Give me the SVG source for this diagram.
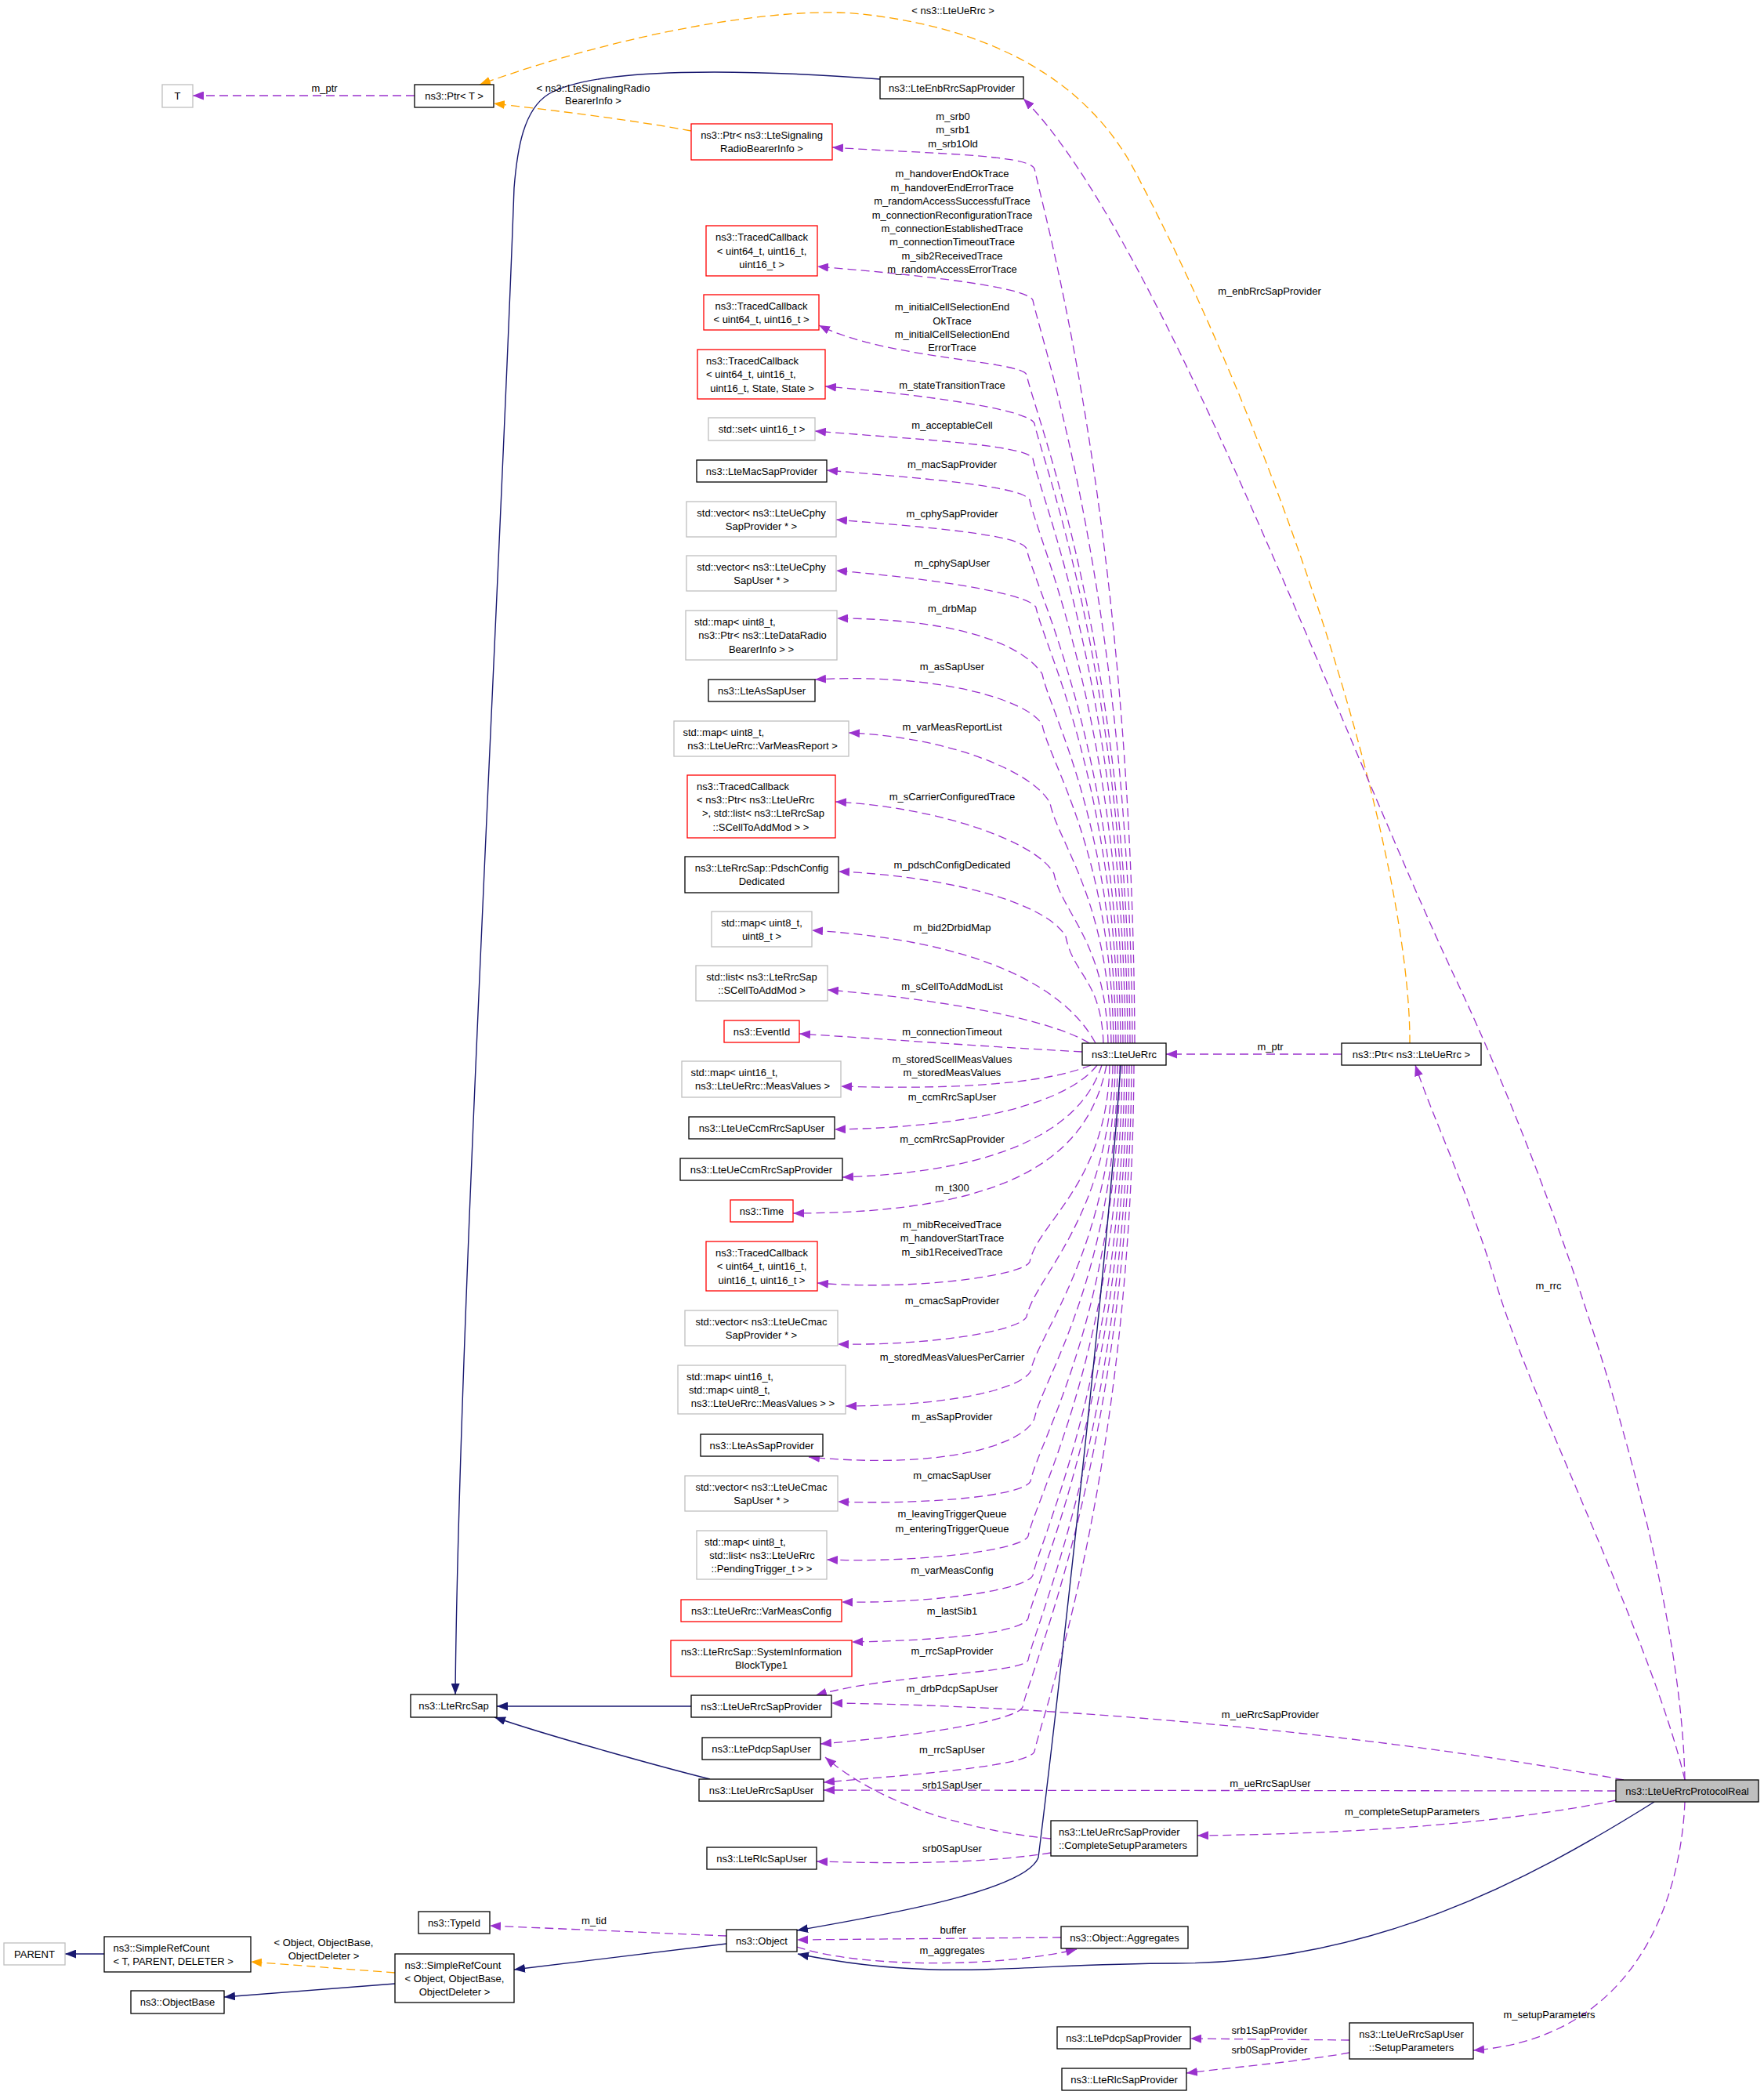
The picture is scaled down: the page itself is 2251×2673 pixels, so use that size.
<svg xmlns="http://www.w3.org/2000/svg" width="2251" height="2673" viewBox="0 0 2251 2673">
<style>
text{font-family:"Liberation Sans",Arial,Helvetica,sans-serif;font-size:13px;fill:#000;text-anchor:middle}
text.s{text-anchor:start}
rect{fill:#fff;stroke-width:1.3}
.k rect{stroke:#000}
.g rect{stroke:#bfbfbf}
.r rect{stroke:#ff0000}
.e{fill:none;stroke:#9a32cd;stroke-width:1.3;stroke-dasharray:11,6;marker-end:url(#mp)}
.o{fill:none;stroke:#ffa500;stroke-width:1.3;stroke-dasharray:11,6;marker-end:url(#mo)}
.b{fill:none;stroke:#191970;stroke-width:1.4;marker-end:url(#mb)}
</style>
<defs>
<marker id="mp" markerUnits="userSpaceOnUse" markerWidth="14" markerHeight="11" refX="14" refY="5.5" orient="auto"><path d="M0,0 L14,5.5 L0,11 z" fill="#9a32cd" stroke="none"/></marker>
<marker id="mo" markerUnits="userSpaceOnUse" markerWidth="14" markerHeight="11" refX="14" refY="5.5" orient="auto"><path d="M0,0 L14,5.5 L0,11 z" fill="#ffa500" stroke="none"/></marker>
<marker id="mb" markerUnits="userSpaceOnUse" markerWidth="14" markerHeight="11" refX="14" refY="5.5" orient="auto"><path d="M0,0 L14,5.5 L0,11 z" fill="#191970" stroke="none"/></marker>
</defs>
<rect x="0" y="0" width="2251" height="2673" style="fill:#fff;stroke:none"/>
<g id="connectors">
<!-- top area -->
<path class="e" d="M529,122 L246,122"/>
<path class="o" d="M882,167 C800,152 700,140 630,132"/>
<path class="o" d="M1799,1331 C1800,1100 1650,600 1448,218 C1400,127 1300,40 1100,18 C1000,7 800,40 612,108"/>
<path class="b" d="M1123,101 C950,88 760,85 700,120 C668,140 660,190 656,240 C640,700 585,1700 581,2162"/>
<path class="e" d="M2150,2271 C2145,2000 2000,1550 1858,1250 C1716,950 1480,300 1306,126"/>
<path class="e" d="M2150,2271 C2110,2100 1960,1800 1913,1650 C1870,1510 1830,1430 1806,1359"/>
<path class="e" d="M1712,1345 L1488,1345"/>
<!-- LteUeRrc upper fan -->
<path class="e" d="M1448,1331 C1445,661 1330,265 1320,215 C1312,197 1182,196 1062,188"/>
<path class="e" d="M1445,1331 C1442,762 1328,433 1318,383 C1310,365 1163,350 1043,340"/>
<path class="e" d="M1442,1331 C1439,819 1320,528 1310,478 C1302,460 1130,458 1045,415"/>
<path class="e" d="M1439,1331 C1436,856 1330,590 1320,540 C1312,522 1173,503 1053,493"/>
<path class="e" d="M1436,1331 C1433,883 1328,635 1318,585 C1310,567 1160,560 1040,550"/>
<path class="e" d="M1433,1331 C1430,915 1324,688 1314,638 C1306,620 1175,610 1055,600"/>
<path class="e" d="M1430,1331 C1427,952 1320,750 1310,700 C1302,682 1187,673 1067,663"/>
<path class="e" d="M1427,1331 C1424,997 1332,825 1322,775 C1314,757 1187,738 1067,728"/>
<path class="e" d="M1424,1331 C1421,1048 1340,910 1330,860 C1300,815 1200,789 1068,789"/>
<path class="e" d="M1421,1331 C1418,1087 1340,975 1330,925 C1315,895 1200,858 1040,867"/>
<path class="e" d="M1418,1331 C1415,1147 1350,1075 1340,1025 C1320,985 1210,940 1083,935"/>
<path class="e" d="M1414,1331 C1411,1201 1355,1165 1345,1115 C1325,1075 1200,1030 1066,1023"/>
<path class="e" d="M1408,1331 C1405,1249 1370,1245 1360,1195 C1335,1150 1200,1117 1070,1112"/>
<path class="e" d="M1398,1331 C1360,1260 1250,1200 1036,1187"/>
<path class="e" d="M1390,1331 C1340,1300 1200,1275 1056,1263"/>
<path class="e" d="M1381,1342 C1250,1335 1120,1325 1020,1319"/>
<!-- LteUeRrc lower fan -->
<path class="e" d="M1392,1359 C1330,1385 1200,1390 1073,1386"/>
<path class="e" d="M1400,1359 C1365,1405 1250,1438 1065,1441"/>
<path class="e" d="M1406,1359 C1380,1440 1280,1495 1075,1502"/>
<path class="e" d="M1412,1359 C1390,1470 1300,1548 1012,1548"/>
<path class="e" d="M1416,1359 C1413,1510 1324,1560 1314,1610 C1306,1628 1163,1647 1043,1637"/>
<path class="e" d="M1420,1359 C1417,1552 1320,1630 1310,1680 C1302,1698 1189,1717 1069,1715"/>
<path class="e" d="M1423,1359 C1420,1594 1325,1700 1315,1750 C1300,1775 1199,1794 1079,1794"/>
<path class="e" d="M1426,1359 C1423,1630 1330,1760 1320,1810 C1305,1845 1200,1875 1032,1859"/>
<path class="e" d="M1429,1359 C1426,1678 1325,1840 1315,1890 C1307,1908 1189,1920 1069,1916"/>
<path class="e" d="M1432,1359 C1429,1720 1322,1910 1312,1960 C1304,1978 1175,1994 1055,1990"/>
<path class="e" d="M1435,1359 C1432,1750 1328,1960 1318,2010 C1310,2028 1194,2046 1074,2044"/>
<path class="e" d="M1438,1359 C1435,1783 1322,2015 1312,2065 C1304,2083 1207,2093 1087,2095"/>
<path class="e" d="M1441,1359 C1438,1814 1322,2068 1312,2118 C1304,2136 1140,2135 1041,2163"/>
<path class="e" d="M1444,1359 C1441,1850 1315,2128 1305,2178 C1297,2196 1167,2215 1047,2225"/>
<path class="e" d="M1447,1359 C1444,1885 1330,2185 1320,2235 C1312,2253 1171,2264 1051,2274"/>
<!-- inheritance -->
<path class="b" d="M1430,1359 C1410,1650 1340,2250 1325,2370 C1310,2410 1150,2440 1017,2463"/>
<path class="b" d="M882,2177 L634,2177"/>
<path class="b" d="M906,2270 C850,2256 700,2215 631,2191"/>
<path class="b" d="M2111,2299 C1950,2400 1750,2505 1500,2505 C1300,2505 1200,2530 1018,2493"/>
<path class="b" d="M927,2480 L656,2513"/>
<path class="b" d="M504,2531 L286,2548"/>
<path class="b" d="M133,2493 L83,2493"/>
<path class="o" d="M504,2517 L320,2503"/>
<path class="e" d="M927,2470 L625,2457"/>
<path class="e" d="M1354,2472 L1017,2475"/>
<path class="e" d="M1017,2484 C1100,2512 1280,2510 1374,2487"/>
<!-- ProtocolReal -->
<path class="e" d="M2072,2271 C1800,2220 1400,2177 1061,2173"/>
<path class="e" d="M2062,2285 L1051,2284"/>
<path class="e" d="M2062,2297 C1900,2330 1700,2340 1528,2342"/>
<path class="e" d="M2150,2299 C2145,2420 2090,2600 1880,2616"/>
<path class="e" d="M1341,2346 C1230,2335 1120,2300 1053,2242"/>
<path class="e" d="M1341,2364 C1250,2378 1150,2378 1042,2375"/>
<path class="e" d="M1722,2603 L1519,2601"/>
<path class="e" d="M1722,2619 C1660,2630 1590,2636 1514,2645"/>
<!-- edge labels -->
<text x="414" y="117">m_ptr</text>
<text x="757" y="117">&lt; ns3::LteSignalingRadio</text>
<text x="757" y="133">BearerInfo &gt;</text>
<text x="1216" y="18">&lt; ns3::LteUeRrc &gt;</text>
<text x="1216" y="153">m_srb0</text>
<text x="1216" y="170">m_srb1</text>
<text x="1216" y="188">m_srb1Old</text>
<text x="1215" y="226">m_handoverEndOkTrace</text>
<text x="1215" y="244">m_handoverEndErrorTrace</text>
<text x="1215" y="261">m_randomAccessSuccessfulTrace</text>
<text x="1215" y="279">m_connectionReconfigurationTrace</text>
<text x="1215" y="296">m_connectionEstablishedTrace</text>
<text x="1215" y="313">m_connectionTimeoutTrace</text>
<text x="1215" y="331">m_sib2ReceivedTrace</text>
<text x="1215" y="348">m_randomAccessErrorTrace</text>
<text x="1215" y="396">m_initialCellSelectionEnd</text>
<text x="1215" y="414">OkTrace</text>
<text x="1215" y="431">m_initialCellSelectionEnd</text>
<text x="1215" y="448">ErrorTrace</text>
<text x="1215" y="496">m_stateTransitionTrace</text>
<text x="1215" y="547">m_acceptableCell</text>
<text x="1215" y="597">m_macSapProvider</text>
<text x="1215" y="660">m_cphySapProvider</text>
<text x="1215" y="723">m_cphySapUser</text>
<text x="1215" y="781">m_drbMap</text>
<text x="1215" y="855">m_asSapUser</text>
<text x="1215" y="932">m_varMeasReportList</text>
<text x="1215" y="1021">m_sCarrierConfiguredTrace</text>
<text x="1215" y="1108">m_pdschConfigDedicated</text>
<text x="1215" y="1188">m_bid2DrbidMap</text>
<text x="1215" y="1263">m_sCellToAddModList</text>
<text x="1215" y="1321">m_connectionTimeout</text>
<text x="1215" y="1356">m_storedScellMeasValues</text>
<text x="1215" y="1373">m_storedMeasValues</text>
<text x="1215" y="1404">m_ccmRrcSapUser</text>
<text x="1215" y="1458">m_ccmRrcSapProvider</text>
<text x="1215" y="1520">m_t300</text>
<text x="1215" y="1567">m_mibReceivedTrace</text>
<text x="1215" y="1584">m_handoverStartTrace</text>
<text x="1215" y="1602">m_sib1ReceivedTrace</text>
<text x="1215" y="1664">m_cmacSapProvider</text>
<text x="1215" y="1736">m_storedMeasValuesPerCarrier</text>
<text x="1215" y="1812">m_asSapProvider</text>
<text x="1215" y="1887">m_cmacSapUser</text>
<text x="1215" y="1936">m_leavingTriggerQueue</text>
<text x="1215" y="1955">m_enteringTriggerQueue</text>
<text x="1215" y="2008">m_varMeasConfig</text>
<text x="1215" y="2060">m_lastSib1</text>
<text x="1215" y="2111">m_rrcSapProvider</text>
<text x="1215" y="2159">m_drbPdcpSapUser</text>
<text x="1215" y="2237">m_rrcSapUser</text>
<text x="1215" y="2282">srb1SapUser</text>
<text x="1215" y="2363">srb0SapUser</text>
<text x="1216" y="2467">buffer</text>
<text x="1215" y="2493">m_aggregates</text>
<text x="758" y="2455">m_tid</text>
<text x="413" y="2483">&lt; Object, ObjectBase,</text>
<text x="413" y="2500">ObjectDeleter &gt;</text>
<text x="1620" y="376">m_enbRrcSapProvider</text>
<text x="1621" y="1340">m_ptr</text>
<text x="1976" y="1645">m_rrc</text>
<text x="1621" y="2192">m_ueRrcSapProvider</text>
<text x="1621" y="2280">m_ueRrcSapUser</text>
<text x="1802" y="2316">m_completeSetupParameters</text>
<text x="1977" y="2575">m_setupParameters</text>
<text x="1620" y="2595">srb1SapProvider</text>
<text x="1620" y="2620">srb0SapProvider</text>
</g>
<!-- nodes -->
<g id="node-T" class="g"><rect x="207" y="108" width="39" height="29"/><text x="226.5" y="127">T</text></g>
<g id="node-PtrT" class="k"><rect x="529" y="108" width="101" height="29"/><text x="579.5" y="127">ns3::Ptr&lt; T &gt;</text></g>
<g id="node-LteEnbRrcSapProvider" class="k"><rect x="1123" y="98" width="183" height="28"/><text x="1214.5" y="116.5">ns3::LteEnbRrcSapProvider</text></g>
<g id="node-PtrSRB" class="r"><rect x="882" y="158" width="180" height="46"/><text x="972" y="177">ns3::Ptr&lt; ns3::LteSignaling</text><text x="972" y="194">RadioBearerInfo &gt;</text></g>
<g id="node-TC3" class="r"><rect x="901" y="288" width="142" height="64"/><text x="972" y="307">ns3::TracedCallback</text><text x="972" y="324.5">&lt; uint64_t, uint16_t,</text><text x="972" y="342">uint16_t &gt;</text></g>
<g id="node-TC2" class="r"><rect x="898" y="376" width="147" height="45"/><text x="971.5" y="394.5">ns3::TracedCallback</text><text x="971.5" y="411.5">&lt; uint64_t, uint16_t &gt;</text></g>
<g id="node-TC5" class="r"><rect x="890" y="446" width="163" height="63"/><text class="s" x="901" y="464.5">ns3::TracedCallback</text><text class="s" x="901" y="482">&lt; uint64_t, uint16_t,</text><text x="972.5" y="499.5">uint16_t, State, State &gt;</text></g>
<g id="node-set" class="g"><rect x="904" y="533" width="136" height="29"/><text x="972" y="552">std::set&lt; uint16_t &gt;</text></g>
<g id="node-LteMacSapProvider" class="k"><rect x="889" y="587" width="166" height="28"/><text x="972" y="605.5">ns3::LteMacSapProvider</text></g>
<g id="node-CphyProv" class="g"><rect x="876" y="640" width="191" height="45"/><text x="971.5" y="658.5">std::vector&lt; ns3::LteUeCphy</text><text x="971.5" y="675.5">SapProvider * &gt;</text></g>
<g id="node-CphyUser" class="g"><rect x="876" y="709" width="191" height="45"/><text x="971.5" y="727.5">std::vector&lt; ns3::LteUeCphy</text><text x="971.5" y="744.5">SapUser * &gt;</text></g>
<g id="node-drbMap" class="g"><rect x="875" y="779" width="193" height="63"/><text class="s" x="886" y="798">std::map&lt; uint8_t,</text><text x="973" y="815">ns3::Ptr&lt; ns3::LteDataRadio</text><text x="971.5" y="832.5">BearerInfo &gt; &gt;</text></g>
<g id="node-LteAsSapUser" class="k"><rect x="904" y="867" width="136" height="28"/><text x="972" y="885.5">ns3::LteAsSapUser</text></g>
<g id="node-VarMeasReport" class="g"><rect x="860" y="920" width="223" height="45"/><text class="s" x="871.5" y="938.5">std::map&lt; uint8_t,</text><text x="973" y="955.5">ns3::LteUeRrc::VarMeasReport &gt;</text></g>
<g id="node-TCList" class="r"><rect x="877" y="989" width="189" height="80"/><text class="s" x="889" y="1007.5">ns3::TracedCallback</text><text class="s" x="889" y="1025">&lt; ns3::Ptr&lt; ns3::LteUeRrc</text><text x="974" y="1042">&gt;, std::list&lt; ns3::LteRrcSap</text><text x="971" y="1059.5">::SCellToAddMod &gt; &gt;</text></g>
<g id="node-Pdsch" class="k"><rect x="874" y="1093" width="196" height="46"/><text x="972" y="1112">ns3::LteRrcSap::PdschConfig</text><text x="972" y="1129">Dedicated</text></g>
<g id="node-map8" class="g"><rect x="908" y="1163" width="128" height="45"/><text x="972" y="1181.5">std::map&lt; uint8_t,</text><text x="972" y="1198.5">uint8_t &gt;</text></g>
<g id="node-list" class="g"><rect x="888" y="1232" width="168" height="45"/><text x="972" y="1250.5">std::list&lt; ns3::LteRrcSap</text><text x="972" y="1267.5">::SCellToAddMod &gt;</text></g>
<g id="node-EventId" class="r"><rect x="924" y="1302" width="96" height="28"/><text x="972" y="1320.5">ns3::EventId</text></g>
<g id="node-map16" class="g"><rect x="870" y="1354" width="203" height="46"/><text class="s" x="881.5" y="1373">std::map&lt; uint16_t,</text><text x="973" y="1390">ns3::LteUeRrc::MeasValues &gt;</text></g>
<g id="node-CcmUser" class="k"><rect x="879" y="1425" width="186" height="28"/><text x="972" y="1443.5">ns3::LteUeCcmRrcSapUser</text></g>
<g id="node-CcmProv" class="k"><rect x="868" y="1478" width="207" height="28"/><text x="971.5" y="1496.5">ns3::LteUeCcmRrcSapProvider</text></g>
<g id="node-Time" class="r"><rect x="932" y="1531" width="80" height="28"/><text x="972" y="1549.5">ns3::Time</text></g>
<g id="node-TC4" class="r"><rect x="901" y="1584" width="142" height="63"/><text x="972" y="1602.5">ns3::TracedCallback</text><text x="972" y="1620">&lt; uint64_t, uint16_t,</text><text x="972" y="1637.5">uint16_t, uint16_t &gt;</text></g>
<g id="node-CmacProv" class="g"><rect x="874" y="1672" width="195" height="45"/><text x="971.5" y="1690.5">std::vector&lt; ns3::LteUeCmac</text><text x="971.5" y="1707.5">SapProvider * &gt;</text></g>
<g id="node-map16map" class="g"><rect x="865" y="1742" width="214" height="62"/><text class="s" x="876" y="1760.5">std::map&lt; uint16_t,</text><text class="s" x="879" y="1777.5">std::map&lt; uint8_t,</text><text x="973.5" y="1795">ns3::LteUeRrc::MeasValues &gt; &gt;</text></g>
<g id="node-LteAsSapProvider" class="k"><rect x="894" y="1830" width="156" height="28"/><text x="972" y="1848.5">ns3::LteAsSapProvider</text></g>
<g id="node-CmacUser" class="g"><rect x="874" y="1883" width="195" height="45"/><text x="971.5" y="1901.5">std::vector&lt; ns3::LteUeCmac</text><text x="971.5" y="1918.5">SapUser * &gt;</text></g>
<g id="node-Pending" class="g"><rect x="889" y="1953" width="166" height="62"/><text class="s" x="899" y="1971.5">std::map&lt; uint8_t,</text><text x="972.5" y="1988.5">std::list&lt; ns3::LteUeRrc</text><text x="972" y="2006">::PendingTrigger_t &gt; &gt;</text></g>
<g id="node-VarMeasConfig" class="r"><rect x="869" y="2041" width="205" height="28"/><text x="971.5" y="2059.5">ns3::LteUeRrc::VarMeasConfig</text></g>
<g id="node-SIB1" class="r"><rect x="856" y="2093" width="231" height="46"/><text x="971.5" y="2112">ns3::LteRrcSap::SystemInformation</text><text x="971.5" y="2129">BlockType1</text></g>
<g id="node-LteRrcSap" class="k"><rect x="524" y="2162" width="110" height="29"/><text x="579" y="2181">ns3::LteRrcSap</text></g>
<g id="node-LteUeRrcSapProvider" class="k"><rect x="882" y="2163" width="179" height="28"/><text x="971.5" y="2181.5">ns3::LteUeRrcSapProvider</text></g>
<g id="node-LtePdcpSapUser" class="k"><rect x="896" y="2217" width="151" height="28"/><text x="971.5" y="2235.5">ns3::LtePdcpSapUser</text></g>
<g id="node-LteUeRrcSapUser" class="k"><rect x="892" y="2270" width="159" height="28"/><text x="971.5" y="2288.5">ns3::LteUeRrcSapUser</text></g>
<g id="node-LteRlcSapUser" class="k"><rect x="902" y="2357" width="140" height="28"/><text x="972" y="2375.5">ns3::LteRlcSapUser</text></g>
<g id="node-LteUeRrc" class="k"><rect x="1381" y="1331" width="107" height="28"/><text x="1434.5" y="1349.5">ns3::LteUeRrc</text></g>
<g id="node-PtrLteUeRrc" class="k"><rect x="1712" y="1331" width="178" height="28"/><text x="1801" y="1349.5">ns3::Ptr&lt; ns3::LteUeRrc &gt;</text></g>
<g id="node-LteUeRrcProtocolReal" class="k"><rect x="2062" y="2271" width="182" height="28" style="fill:#bfbfbf"/><text x="2153" y="2289.5">ns3::LteUeRrcProtocolReal</text></g>
<g id="node-CompleteSetupParameters" class="k"><rect x="1341" y="2323" width="187" height="45"/><text class="s" x="1351" y="2341.5">ns3::LteUeRrcSapProvider</text><text class="s" x="1351" y="2358.5">::CompleteSetupParameters</text></g>
<g id="node-TypeId" class="k"><rect x="534" y="2439" width="91" height="28"/><text x="579.5" y="2457.5">ns3::TypeId</text></g>
<g id="node-Object" class="k"><rect x="927" y="2462" width="90" height="28"/><text x="972" y="2480.5">ns3::Object</text></g>
<g id="node-Aggregates" class="k"><rect x="1354" y="2458" width="162" height="28"/><text x="1435" y="2476.5">ns3::Object::Aggregates</text></g>
<g id="node-PARENT" class="g"><rect x="5" y="2479" width="78" height="28"/><text x="44" y="2497.5">PARENT</text></g>
<g id="node-SRCT" class="k"><rect x="133" y="2471" width="187" height="45"/><text class="s" x="144.5" y="2489.5">ns3::SimpleRefCount</text><text class="s" x="144.5" y="2506.5">&lt; T, PARENT, DELETER &gt;</text></g>
<g id="node-ObjectBase" class="k"><rect x="167" y="2540" width="119" height="29"/><text x="226.5" y="2559">ns3::ObjectBase</text></g>
<g id="node-SRCObject" class="k"><rect x="504" y="2493" width="152" height="62"/><text x="578" y="2511.5">ns3::SimpleRefCount</text><text x="580" y="2528.5">&lt; Object, ObjectBase,</text><text x="580" y="2546">ObjectDeleter &gt;</text></g>
<g id="node-LtePdcpSapProvider" class="k"><rect x="1349" y="2586" width="170" height="28"/><text x="1434" y="2604.5">ns3::LtePdcpSapProvider</text></g>
<g id="node-LteRlcSapProvider" class="k"><rect x="1355" y="2639" width="159" height="28"/><text x="1434.5" y="2657.5">ns3::LteRlcSapProvider</text></g>
<g id="node-SetupParameters" class="k"><rect x="1722" y="2581" width="158" height="46"/><text x="1801" y="2600">ns3::LteUeRrcSapUser</text><text x="1801" y="2617">::SetupParameters</text></g>
</svg>
